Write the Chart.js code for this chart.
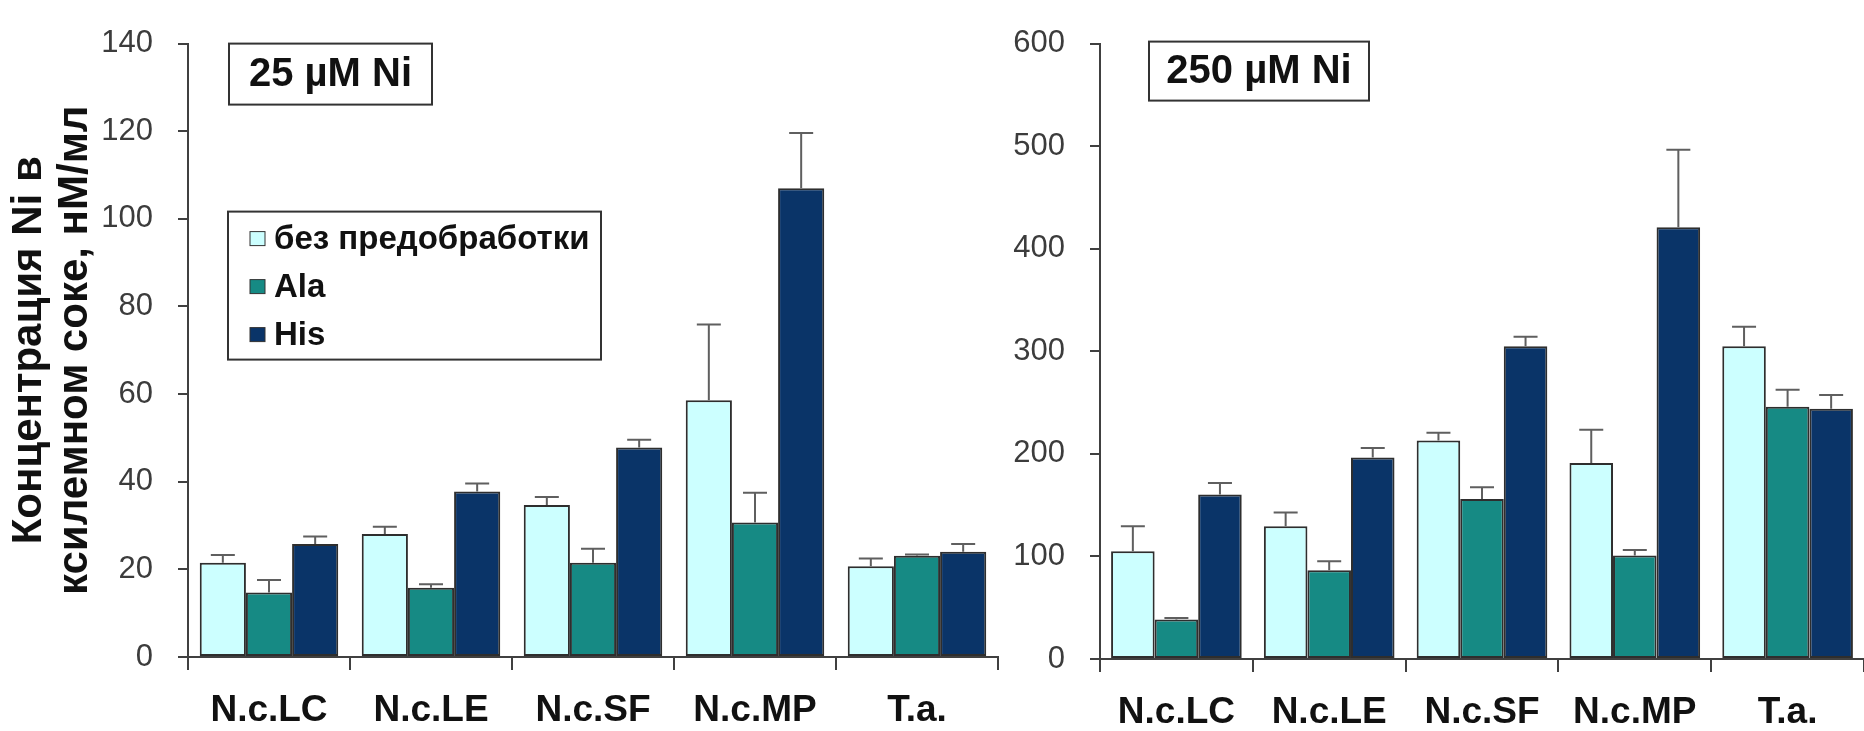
<!DOCTYPE html>
<html lang="ru">
<head>
    <meta charset="UTF-8">
    <title>Концентрация Ni в ксилемном соке</title>
    <style>
        body {
            margin: 0;
            padding: 0;
            background: #fff;
            width: 1864px;
            height: 731px;
            overflow: hidden;
            position: relative;
        }
        .panel {
            position: absolute;
            top: 0;
            height: 731px;
        }
        #left-panel { left: 0; width: 1000px; }
        #right-panel { left: 1000px; width: 864px; }
    </style>
</head>
<body>
    <div class="panel" id="left-panel"><canvas id="chartLow"></canvas></div>
    <div class="panel" id="right-panel"><canvas id="chartHigh"></canvas></div>

    <script src="https://cdn.jsdelivr.net/npm/chart.js"></script>
    <script>
        const categories = ['N.c.LC', 'N.c.LE', 'N.c.SF', 'N.c.MP', 'T.a.'];
        const seriesNames = ['без предобработки', 'Ala', 'His'];

        // 25 µM Ni
        const lowNone = [21.5, 28.1, 34.7, 58.6, 20.7];
        const lowAla  = [14.7, 15.8, 21.5, 30.7, 23.1];
        const lowHis  = [25.8, 37.8, 47.8, 107.0, 24.0];
        const lowNoneErr = [1.8, 1.6, 1.8, 17.3, 1.8];
        const lowAlaErr  = [2.9, 0.8, 3.2, 6.8, 0.3];
        const lowHisErr  = [1.7, 1.8, 1.8, 12.6, 1.8];

        // 250 µM Ni
        const highNone = [105, 129.5, 213, 191, 305];
        const highAla  = [38.6, 86.5, 156, 101, 246];
        const highHis  = [160.5, 196.5, 305, 421, 244];
        const highNoneErr = [24.4, 13.3, 7.5, 32.4, 19.0];
        const highAlaErr  = [1.3, 8.8, 11.5, 5.3, 16.4];
        const highHisErr  = [11.1, 9.3, 9.3, 75.4, 13.3];

        const colors = ['#ccffff', '#168a84', '#0a3468'];
        const FONT = "'Liberation Sans', Arial, sans-serif";

        // error bars (upper only) + title box + legend box
        const extrasPlugin = {
            id: 'extras',
            afterDatasetsDraw(chart) {
                const ctx = chart.ctx;
                const y = chart.scales.y;
                ctx.save();
                ctx.strokeStyle = '#5f5f5f';
                ctx.lineWidth = 2;
                chart.data.datasets.forEach((ds, i) => {
                    chart.getDatasetMeta(i).data.forEach((bar, j) => {
                        const yTop = y.getPixelForValue(ds.data[j]);
                        const yCap = y.getPixelForValue(ds.data[j] + ds.errors[j]);
                        ctx.beginPath();
                        ctx.moveTo(bar.x, yTop);
                        ctx.lineTo(bar.x, yCap);
                        ctx.moveTo(bar.x - 12, yCap);
                        ctx.lineTo(bar.x + 12, yCap);
                        ctx.stroke();
                    });
                });
                ctx.restore();
            },
            afterDraw(chart, args, opts) {
                const ctx = chart.ctx;
                const area = chart.chartArea;
                ctx.save();
                ctx.strokeStyle = '#333';
                ctx.lineWidth = 2;

                const t = opts.title;
                if (t) {
                    const bx = area.left + t.dx, by = area.top + t.dy;
                    ctx.fillStyle = '#fff';
                    ctx.fillRect(bx, by, t.w, t.h);
                    ctx.strokeRect(bx, by, t.w, t.h);
                    ctx.fillStyle = '#111';
                    ctx.font = `bold ${t.size}px ${FONT}`;
                    ctx.textAlign = 'center';
                    ctx.textBaseline = 'middle';
                    ctx.fillText(t.text, bx + t.w / 2, by + t.h / 2 + 1);
                }

                const l = opts.legend;
                if (l) {
                    const lx = area.left + l.dx, ly = area.top + l.dy;
                    ctx.fillStyle = '#fff';
                    ctx.fillRect(lx, ly, l.w, l.h);
                    ctx.strokeRect(lx, ly, l.w, l.h);
                    ctx.font = `bold ${l.size}px ${FONT}`;
                    ctx.textAlign = 'left';
                    ctx.textBaseline = 'middle';
                    chart.data.datasets.forEach((ds, i) => {
                        const cy = ly + l.firstRow + i * l.rowGap;
                        ctx.fillStyle = ds.backgroundColor;
                        ctx.fillRect(lx + 22, cy - 7, 15, 14);
                        ctx.lineWidth = 1;
                        ctx.strokeRect(lx + 22, cy - 7, 15, 14);
                        ctx.fillStyle = '#111';
                        ctx.fillText(ds.label, lx + 46, cy + 1);
                    });
                }
                ctx.restore();
            }
        };

        function makeDatasets(values, errors) {
            return values.map((vals, i) => ({
                label: seriesNames[i],
                data: vals,
                errors: errors[i],
                backgroundColor: colors[i],
                borderColor: '#2e2e2e',
                borderWidth: 2,
                borderSkipped: false,
                categoryPercentage: 0.855,
                barPercentage: 1.0
            }));
        }

        function makeChart(canvasId, cfg) {
            const el = document.getElementById(canvasId);
            return new Chart(el, {
                type: 'bar',
                data: {
                    labels: categories,
                    datasets: makeDatasets(cfg.values, cfg.errors)
                },
                options: {
                    responsive: true,
                    maintainAspectRatio: false,
                    animation: false,
                    layout: { padding: { top: cfg.top, right: cfg.right, left: 0, bottom: 0 } },
                    plugins: {
                        legend: { display: false },
                        tooltip: { enabled: false },
                        extras: { title: cfg.title, legend: cfg.legend }
                    },
                    scales: {
                        x: {
                            offset: true,
                            grid: {
                                offset: true,
                                drawOnChartArea: false,
                                drawTicks: true,
                                tickLength: 13,
                                color: '#404040',
                                lineWidth: 2
                            },
                            border: { display: true, color: '#404040', width: 2 },
                            ticks: {
                                color: '#111',
                                padding: 19,
                                maxRotation: 0,
                                font: { family: FONT, size: 37, weight: 'bold' }
                            },
                            afterFit(scale) { scale.height = cfg.xHeight; }
                        },
                        y: {
                            min: 0,
                            max: cfg.max,
                            ticks: {
                                stepSize: cfg.step,
                                color: '#3c3c3c',
                                padding: 25,
                                font: { family: FONT, size: 31 }
                            },
                            grid: {
                                drawOnChartArea: false,
                                drawTicks: true,
                                tickLength: 10,
                                color: '#404040',
                                lineWidth: 2
                            },
                            border: { display: true, color: '#404040', width: 2 },
                            title: cfg.yTitle ? {
                                display: true,
                                text: cfg.yTitle,
                                color: '#111',
                                padding: { top: 6, bottom: 0 },
                                font: { family: FONT, size: 42, weight: 'bold', lineHeight: 1.1 }
                            } : { display: false },
                            afterFit(scale) { scale.width = cfg.yWidth; }
                        }
                    }
                },
                plugins: [extrasPlugin]
            });
        }

        makeChart('chartLow', {
            values: [lowNone, lowAla, lowHis],
            errors: [lowNoneErr, lowAlaErr, lowHisErr],
            max: 140, step: 20,
            top: 37, right: 2, xHeight: 74, yWidth: 188,
            yTitle: ['Концентрация Ni в', 'ксилемном соке, нМ/мл'],
            title: { text: '25 µM Ni', dx: 41, dy: 0, w: 203, h: 61, size: 40 },
            legend: { dx: 40, dy: 168, w: 373, h: 148, size: 33, firstRow: 27, rowGap: 48 }
        });

        makeChart('chartHigh', {
            values: [highNone, highAla, highHis],
            errors: [highNoneErr, highAlaErr, highHisErr],
            max: 600, step: 100,
            top: 31, right: 0, xHeight: 72, yWidth: 100,
            title: { text: '250 µM Ni', dx: 49, dy: -2, w: 220, h: 59, size: 40 }
        });
    </script>
</body>
</html>
